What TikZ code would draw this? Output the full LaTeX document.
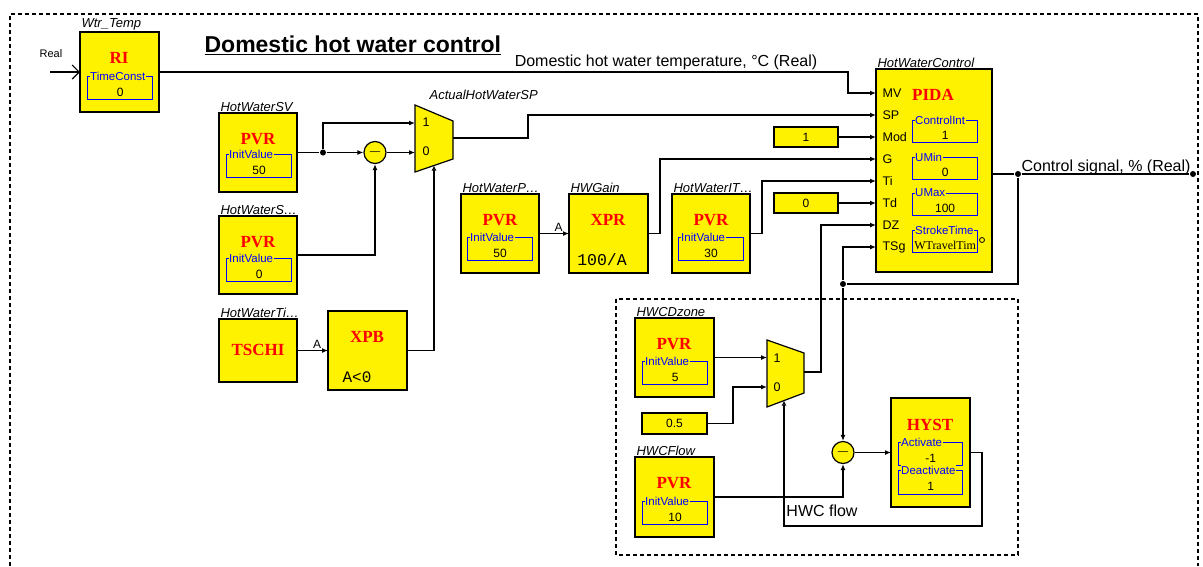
\documentclass[tikz,border=0pt]{standalone}
\usepackage{fontspec}
\setmainfont{Liberation Sans}
\newfontfamily\serifrm{Liberation Serif}
\newfontfamily\monorm{Liberation Mono}
\usetikzlibrary{positioning,arrows.meta}

\newcommand{\fsz}[1]{\fontsize{#1}{#1}\selectfont}

\begin{document}
\begin{tikzpicture}[
  x=1pt, y=-1pt, >={Latex[length=6pt,width=5pt]}, line width=1.2pt,
  blk/.style={draw, line width=2.6pt, fill=yellow, inner sep=0pt, outer sep=0pt, anchor=north west, minimum width=79pt, minimum height=79pt},
  tag/.style={font=\fsz{13}\itshape, inner sep=1pt, anchor=south west},
  kind/.style={text=red, font=\serifrm\bfseries\fsz{17}},
  par/.style={draw=blue, line width=1.3pt, minimum width=65pt, minimum height=23pt, inner sep=0pt, anchor=north west, font=\fsz{12}, text height=16pt, text depth=0pt},
  parname/.style={text=blue, fill=yellow, inner sep=0.6pt, font=\fsz{11.5}, anchor=west},
  cst/.style={draw, line width=1.3pt, fill=yellow, minimum width=64pt, minimum height=20pt, inner sep=0pt, outer sep=0pt, anchor=north west, font=\fsz{12}},
  sum/.style={draw, circle, fill=yellow, minimum size=22pt, inner sep=0pt, font=\fsz{16}},
  mux/.style={draw, fill=yellow},
  port/.style={font=\fsz{12.5}, anchor=west, inner sep=0pt},
  muxin/.style={font=\fsz{12.5}, inner sep=0pt},
  sig/.style={font=\fsz{16}, inner sep=1pt},
  jdot/.style={circle, fill, inner sep=0pt, minimum size=6pt},
  ctl/.style={-{Latex[open,length=5pt,width=5pt]}},
  frame/.style={dash pattern=on 4pt off 3pt, line width=1.1pt}
]
\useasboundingbox (0,0) rectangle (1203,566);

% frames
\draw[frame] (10,566) -- (10,14) -- (1198,14) -- (1198,566);
\draw[frame] (616,299) rectangle (1018,555);

\node[font=\bfseries\fsz{23}, anchor=west, inner sep=0pt] (title) at (204,45) {\underline{Domestic hot water control}};

% input filter
\node[blk, minimum height=80pt, label={[tag]north west:Wtr\_Temp}] (ri) at (80,32) {};
\node[kind] (ritxt) at (119,58) {RI};
\node[par] (rip) at (87,76) {0};
\node[parname] (ripn) at ([xshift=2pt]rip.north west) {TimeConst};
\node[font=\fsz{11}] (realtxt) at (51,54) {Real};
\coordinate (realin) at (50,72);

% setpoint chain
\node[blk, minimum width=78pt, label={[tag]north west:HotWaterSV}] (sv) at (219,113) {};
\node[kind] (svtxt) at (258,139) {PVR};
\node[par] (svp) at (226,154) {50};
\node[parname] (svpn) at ([xshift=2pt]svp.north west) {InitValue};

\node[blk, minimum width=78pt, minimum height=78pt, label={[tag]north west:HotWaterS\ldots}] (ss) at (219,216) {};
\node[kind] (sstxt) at (258,242) {PVR};
\node[par] (ssp) at (226,258) {0};
\node[parname] (sspn) at ([xshift=2pt]ssp.north west) {InitValue};

\node[blk, minimum width=78pt, minimum height=63pt, label={[tag]north west:HotWaterTi\ldots}] (ti) at (219,319) {};
\node[kind] (titxt) at (258,350) {TSCHI};

\node[blk] (xpb) at (328,311) {};
\node[kind] (xpbtxt) at (367,337) {XPB};
\node[font=\monorm\fsz{16}] (xpbf) at (357,377) {A<0};

\node[sum] (s1) at (375,152.5) {$-$};
\node[jdot] (j1) at (323,152.5) {};

\draw[mux] (415,105) -- (453,121) -- (453,159) -- (415,172) -- cycle;
\coordinate (m1a) at (415,123);
\coordinate (m1b) at (415,152.5);
\coordinate (m1c) at (434,165.5);
\coordinate (m1o) at (453,138);
\node[muxin] (m1l1) at (426,122) {1};
\node[muxin] (m1l0) at (426,151) {0};
\node[tag, anchor=west] (m1name) at (428,95) {ActualHotWaterSP};

% gain and integral time
\node[blk, minimum width=78pt, label={[tag]north west:HotWaterP\ldots}] (hp) at (461,194) {};
\node[kind] (hptxt) at (500,220) {PVR};
\node[par] (hpp) at (467,237) {50};
\node[parname] (hppn) at ([xshift=2pt]hpp.north west) {InitValue};

\node[blk, right=30pt of hp, label={[tag]north west:HWGain}] (hwg) {};
\node[kind] (hwgtxt) at (608,220) {XPR};
\node[font=\monorm\fsz{16.5}] (hwgf) at (602,260) {100/A};

\node[blk, minimum width=78pt, label={[tag]north west:HotWaterIT\ldots}] (hi) at (672,194) {};
\node[kind] (hitxt) at (711,220) {PVR};
\node[par] (hip) at (678,237) {30};
\node[parname] (hipn) at ([xshift=2pt]hip.north west) {InitValue};

\node[cst] (c1) at (774,127) {1};
\node[cst] (c0) at (774,193) {0};

% controller
\node[blk, minimum width=116pt, minimum height=203pt, label={[tag]north west:HotWaterControl}] (pida) at (876,69) {};
\node[kind] (pidatxt) at (933,95) {PIDA};
\foreach \p/\y in {MV/93, SP/115, Mod/137, G/159, Ti/181, Td/203, DZ/225, TSg/247} {
  \coordinate (pid\p) at (876,\y);
  \node[port] (lbl\p) at (882,\y) {\p};
}
\node[par, minimum height=22pt] (pp1) at (912,120) {1};
\node[parname] (pp1n) at ([xshift=2pt]pp1.north west) {ControlInt};
\node[par, minimum height=22pt] (pp2) at (912,157) {0};
\node[parname] (pp2n) at ([xshift=2pt]pp2.north west) {UMin};
\node[par, minimum height=22pt] (pp3) at (912,193) {100};
\node[parname] (pp3n) at ([xshift=2pt]pp3.north west) {UMax};
\node[par, minimum height=22pt, font=\serifrm\fsz{12}] (pp4) at (912,230) {WTravelTim};
\node[parname] (pp4n) at ([xshift=2pt]pp4.north west) {StrokeTime};
\node[circle, draw, inner sep=0pt, minimum size=5pt, line width=0.8pt] (pidao) at (982,240) {};

\node[jdot] (j2) at (1018,174) {};
\node[jdot] (jout) at (1193,174) {};
\node[jdot] (j3) at (843,284) {};

% dead zone and flow
\node[blk, label={[tag]north west:HWCDzone}] (dz) at (635,318) {};
\node[kind] (dztxt) at (674,344) {PVR};
\node[par] (dzp) at (642,361) {5};
\node[parname] (dzpn) at ([xshift=2pt]dzp.north west) {InitValue};

\node[cst, minimum width=65pt, minimum height=21pt] (c05) at (642,413) {0.5};

\node[blk, minimum height=80pt, label={[tag]north west:HWCFlow}] (fl) at (635,457) {};
\node[kind] (fltxt) at (674,483) {PVR};
\node[par] (flp) at (642,501) {10};
\node[parname] (flpn) at ([xshift=2pt]flp.north west) {InitValue};

\draw[mux] (767,340) -- (804,353) -- (804,393) -- (767,407) -- cycle;
\coordinate (m2a) at (767,357.5);
\coordinate (m2b) at (767,387);
\coordinate (m2c) at (784,400.6);
\coordinate (m2o) at (804,372);
\node[muxin] (m2l1) at (777,358) {1};
\node[muxin] (m2l0) at (777,387) {0};

\node[sum] (s2) at (843,452.5) {$-$};

\node[blk, minimum height=109pt] (hyst) at (891,398) {};
\node[kind] (hysttxt) at (930,425) {HYST};
\node[par, minimum width=64pt] (hyp1) at (898,442) {-1};
\node[parname] (hyp1n) at ([xshift=2pt]hyp1.north west) {Activate};
\node[par, minimum width=64pt, minimum height=24pt] (hyp2) at (898,470) {1};
\node[parname] (hyp2n) at ([xshift=2pt]hyp2.north west) {Deactivate};

\node[font=\fsz{16}] (hwcflow) at (822,511) {HWC flow};

% connectors
\draw[-{Straight Barb[length=7pt,width=14pt]}] (realin) -- (ri.west);
\draw[->] (ri.east) -- (848,72) |- (pidMV);
\node[sig, anchor=south] (tempsig) at (666,71) {Domestic hot water temperature, °C (Real)};

\draw (sv.east) -- (j1);
\draw[->] (j1) -- (s1);
\draw[->] (j1) |- (m1a);
\draw[->] (s1) -- (m1b);
\draw[->] (ss.east) -| (s1.south);
\draw[->] (ti.east) -- node[pos=0.65, above, font=\fsz{12}, inner sep=1pt] (ain1) {A} (xpb.west);
\draw[ctl] (xpb.east) -| (m1c);
\draw[->] (m1o) -- (528,138) |- (pidSP);

\draw[->] (hp.east) -- node[pos=0.65, above, font=\fsz{12}, inner sep=1pt] (ain2) {A} (hwg.west);
\draw[->] (hwg.east) -- (660,233.5) |- (pidG);
\draw[->] (hi.east) -- (762,233.5) |- (pidTi);
\draw[->] (c1.east) -- (pidMod);
\draw[->] (c0.east) -- (pidTd);

\draw (pida.east |- j2) -- (j2) -- (jout);
\node[sig, anchor=base west] (ctrlsig) at (1020,171) {Control signal, \% (Real)};
\draw (j2) |- (j3);
\draw[->] (j3) |- (pidTSg);
\draw[->] (j3) -- (s2);
\draw[->] (m2o) -- (821,372) |- (pidDZ);

\draw[->] (dz.east) -- (m2a);
\draw[->] (c05.east) -- (733,423.5) |- (m2b);
\draw[->] (fl.east) -| (s2.south);
\draw[->] (s2) -- (hyst.west);
\draw[ctl] (hyst.east) -| (982,526) -| (m2c);
\end{tikzpicture}
\end{document}
